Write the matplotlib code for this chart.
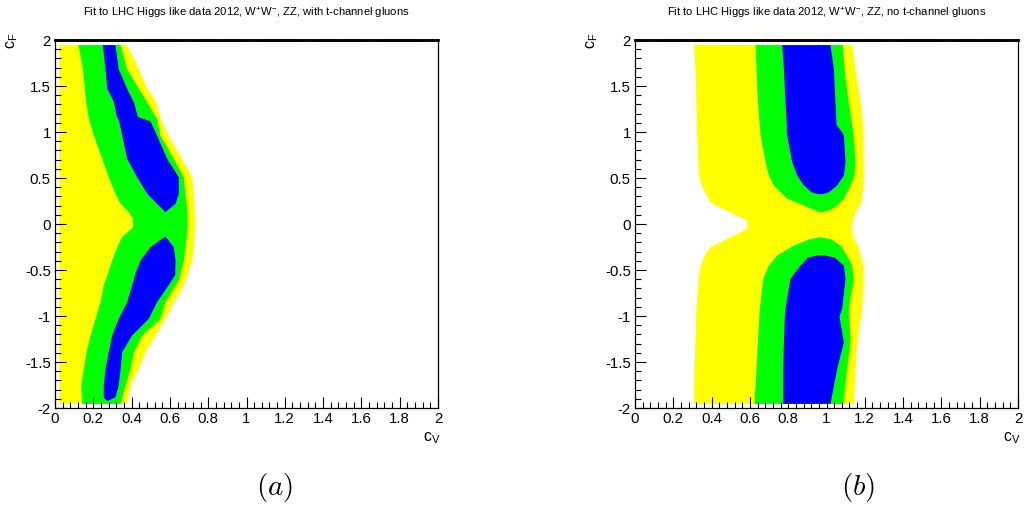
import matplotlib
matplotlib.use("Agg")
import matplotlib.pyplot as plt
from matplotlib.ticker import MultipleLocator, FuncFormatter

plt.rcParams['font.family'] = ['Liberation Sans', 'DejaVu Sans']
plt.rcParams['mathtext.fontset'] = 'custom'
plt.rcParams['mathtext.rm'] = 'Liberation Sans'
plt.rcParams['mathtext.it'] = 'Liberation Sans:italic'
plt.rcParams['mathtext.bf'] = 'Liberation Sans:bold'
plt.rcParams['axes.unicode_minus'] = False

# ---------------- Panel (a): with t-channel gluons ----------------
a_yel_cf = [1.95, 1.69, 1.475, 1.33, 1.15, 0.967, 0.714, 0.514, 0.333, 0.043,
            -0.247, -0.39, -0.61, -0.663, -0.845, -1.025, -1.207, -1.388, -1.57, -1.75, -1.95]
a_yel_lo = [0.02] * 21
a_yel_hi = [0.374, 0.435, 0.479, 0.527, 0.548, 0.59, 0.66, 0.714, 0.722, 0.731,
            0.722, 0.714, 0.679, 0.67, 0.618, 0.574, 0.522, 0.47, 0.435, 0.392, 0.374]

a_grn_cf = [1.95, 1.69, 1.475, 1.33, 1.15, 0.967, 0.714, 0.514, 0.333, 0.225, 0.134,
            0.06, -0.03, -0.138, -0.247, -0.39, -0.61, -0.663, -0.845, -1.025, -1.207,
            -1.388, -1.57, -1.75, -1.95]
a_grn_lo = [0.12, 0.143, 0.153, 0.16, 0.174, 0.2, 0.244, 0.278, 0.313, 0.34, 0.383,
            0.405, 0.405, 0.348, 0.322, 0.296, 0.261, 0.252, 0.235, 0.209, 0.183,
            0.162, 0.148, 0.134, 0.139]
a_grn_hi = [0.34, 0.374, 0.435, 0.479, 0.53, 0.548, 0.618, 0.67, 0.679, 0.685, 0.688,
            0.69, 0.69, 0.685, 0.679, 0.67, 0.644, 0.627, 0.574, 0.548, 0.453,
            0.409, 0.392, 0.366, 0.34]

a_blu1_cf = [1.95, 1.69, 1.475, 1.33, 1.17, 1.12, 0.967, 0.714, 0.514, 0.333, 0.225, 0.134]
a_blu1_lo = [0.247, 0.261, 0.27, 0.305, 0.32, 0.333, 0.348, 0.374, 0.426, 0.479, 0.53, 0.574]
a_blu1_hi = [0.313, 0.33, 0.374, 0.409, 0.43, 0.496, 0.53, 0.583, 0.644, 0.644, 0.627, 0.574]

a_blu2_cf = [-0.13, -0.247, -0.39, -0.55, -0.663, -0.845, -1.025, -1.207, -1.388, -1.57, -1.75, -1.88, -1.92]
a_blu2_lo = [0.574, 0.496, 0.444, 0.415, 0.4, 0.374, 0.33, 0.296, 0.278, 0.261, 0.252, 0.252, 0.27]
a_blu2_hi = [0.574, 0.618, 0.627, 0.625, 0.59, 0.53, 0.487, 0.4, 0.348, 0.34, 0.33, 0.313, 0.27]

# ---------------- Panel (b): no t-channel gluons ----------------
b_yel_cf = [1.95, 1.69, 1.33, 1.04, 0.677, 0.55, 0.424, 0.24, 0.134, 0.043, -0.05,
            -0.12, -0.247, -0.337, -0.446, -0.554, -0.916, -1.279, -1.57, -1.95]
b_yel_lo = [0.305, 0.313, 0.318, 0.32, 0.328, 0.331, 0.345, 0.392, 0.49, 0.583, 0.583,
            0.513, 0.392, 0.36, 0.342, 0.331, 0.318, 0.313, 0.308, 0.305]
b_yel_hi = [1.131, 1.149, 1.175, 1.19, 1.192, 1.192, 1.19, 1.18, 1.149, 1.135, 1.131,
            1.135, 1.165, 1.175, 1.19, 1.192, 1.184, 1.158, 1.149, 1.14]

b_grn1_cf = [1.95, 1.69, 1.33, 0.967, 0.677, 0.533, 0.424, 0.28, 0.207, 0.16, 0.13]
b_grn1_lo = [0.627, 0.632, 0.639, 0.653, 0.679, 0.696, 0.722, 0.792, 0.879, 0.93, 0.966]
b_grn1_hi = [1.083, 1.091, 1.114, 1.14, 1.149, 1.144, 1.123, 1.088, 1.053, 1.02, 0.97]

b_grn2_cf = [-0.138, -0.16, -0.228, -0.337, -0.446, -0.59, -0.916, -1.279, -1.57, -1.95]
b_grn2_lo = [0.966, 0.91, 0.827, 0.74, 0.696, 0.667, 0.649, 0.639, 0.632, 0.621]
b_grn2_hi = [0.966, 1.02, 1.07, 1.105, 1.131, 1.14, 1.114, 1.123, 1.105, 1.085]

b_blu1_cf = [1.95, 1.69, 1.33, 1.08, 1.0, 0.967, 0.677, 0.533, 0.424, 0.35, 0.33]
b_blu1_lo = [0.766, 0.775, 0.783, 0.79, 0.79, 0.792, 0.818, 0.844, 0.879, 0.92, 0.95]
b_blu1_hi = [1.018, 1.036, 1.044, 1.05, 1.08, 1.088, 1.097, 1.088, 1.053, 1.01, 0.98]

b_blu2_cf = [-0.337, -0.36, -0.446, -0.59, -0.916, -1.0, -1.279, -1.57, -1.95]
b_blu2_lo = [0.95, 0.90, 0.862, 0.809, 0.783, 0.78, 0.775, 0.771, 0.771]
b_blu2_hi = [0.99, 1.04, 1.088, 1.097, 1.079, 1.065, 1.088, 1.053, 1.018]

titles = ["Fit to LHC Higgs like data 2012, W$^{+}$W$^{-}$, ZZ, with t-channel gluons",
          "Fit to LHC Higgs like data 2012, W$^{+}$W$^{-}$, ZZ, no t-channel gluons"]
panel_tags = ["(a)", "(b)"]

YELLOW = "#ffff00"
GREEN = "#00ff00"
BLUE = "#0000ff"

panels = [
    [(YELLOW, a_yel_cf, a_yel_lo, a_yel_hi),
     (GREEN, a_grn_cf, a_grn_lo, a_grn_hi),
     (BLUE, a_blu1_cf, a_blu1_lo, a_blu1_hi),
     (BLUE, a_blu2_cf, a_blu2_lo, a_blu2_hi)],
    [(YELLOW, b_yel_cf, b_yel_lo, b_yel_hi),
     (GREEN, b_grn1_cf, b_grn1_lo, b_grn1_hi),
     (GREEN, b_grn2_cf, b_grn2_lo, b_grn2_hi),
     (BLUE, b_blu1_cf, b_blu1_lo, b_blu1_hi),
     (BLUE, b_blu2_cf, b_blu2_lo, b_blu2_hi)],
]

W, H = 1026, 511
fig = plt.figure(figsize=(W / 100, H / 100), dpi=100)

lefts_px = [55, 635]
ax_w_px = 383
top_px, bot_px = 40, 408

fmt = FuncFormatter(lambda v, p: "%g" % round(v, 6))

for i in range(2):
    l = lefts_px[i] / W
    b = (H - bot_px) / H
    ax = fig.add_axes([l, b, ax_w_px / W, (bot_px - top_px) / H])
    for colour, cf, lo, hi in panels[i]:
        ax.fill_betweenx(cf, lo, hi, color=colour, linewidth=0)
    ax.set_xlim(0, 2)
    ax.set_ylim(-2, 2)
    ax.xaxis.set_major_locator(MultipleLocator(0.2))
    ax.xaxis.set_minor_locator(MultipleLocator(0.04))
    ax.yaxis.set_major_locator(MultipleLocator(0.5))
    ax.yaxis.set_minor_locator(MultipleLocator(0.1))
    ax.xaxis.set_major_formatter(fmt)
    ax.yaxis.set_major_formatter(fmt)
    ax.tick_params(which='both', direction='in', top=False, right=False,
                   labelsize=10.8, width=0.8, color='black')
    ax.tick_params(which='major', length=8, pad=3)
    ax.tick_params(which='minor', length=4)
    for s in ['left', 'bottom', 'right']:
        ax.spines[s].set_linewidth(0.9)
    ax.spines['top'].set_linewidth(2.0)
    ax.spines['top'].set_linestyle((0, (1.0, 0.35)))

    cx = (lefts_px[i] + ax_w_px / 2) / W
    fig.text(cx, 1 - 13 / H, titles[i], ha='center', va='center', fontsize=8.1)
    # axis labels
    fig.text((lefts_px[i] + ax_w_px + 3) / W, 1 - 438 / H, r"c$_{\mathrm{V}}$",
             ha='right', va='center', fontsize=11.5)
    fig.text((lefts_px[i] - 43) / W, 1 - 33 / H, r"c$_{\mathrm{F}}$",
             ha='center', va='top', rotation=90, fontsize=11.5)
    tagx = [275, 858][i]
    fig.text(tagx / W, 1 - 488 / H, "$" + panel_tags[i] + "$", ha='center', va='center',
             fontsize=21, math_fontfamily='cm')

fig.savefig("out.png", dpi=100)
